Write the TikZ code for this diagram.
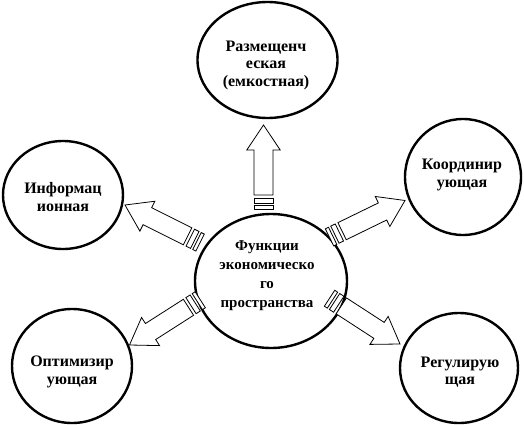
\documentclass[tikz,border=0pt]{standalone}
\usepackage{fontspec}
\setmainfont{Liberation Serif}
\begin{document}
\begin{tikzpicture}[x=1pt,y=-1pt,
  circ/.style={draw=black,line width=2.4pt},
  lbl/.style={align=center,font=\fontsize{16}{17.5}\selectfont\bfseries,inner sep=0pt},
  arr/.style={draw=black,line width=0.8pt,fill=white,line join=miter}]
\useasboundingbox (0,0) rectangle (524,425);
% circles
\draw[circ] (267.5,60) ellipse [x radius=70, y radius=58];
\draw[circ] (463,177) ellipse [x radius=58, y radius=58];
\draw[circ] (63,195) ellipse [x radius=60, y radius=54];
\draw[circ] (72,366) ellipse [x radius=60, y radius=57];
\draw[circ] (459,368) ellipse [x radius=59, y radius=55];
\draw[circ] (271,281) ellipse [x radius=76, y radius=67];
% labels
\node[lbl] (top) at (266,65) {Размещенч\\еская\\(емкостная)};
\node[lbl] (coord) at (462,175) {Координир\\ующая};
\node[lbl] (info) at (63,197) {Информац\\ионная};
\node[lbl] (opt) at (72,372) {Оптимизир\\ующая};
\node[lbl] (reg) at (460,372) {Регулирую\\щая};
\node[lbl,font=\fontsize{15}{19}\selectfont\bfseries] (center) at (267,276) {Функции\\экономическо\\го\\пространства};
% striped block arrows
\foreach \tx/\ty/\ang in {263.5/125/90, 405/200.5/26, 125/205/153.4, 129.5/345/212.6, 400/344/-33}{
  \begin{scope}[shift={(\tx,\ty)},rotate=\ang]
    \draw[arr] (0,0) -- (-25,16.7) -- (-25,9.5) -- (-70,9.5) -- (-70,-9.5) -- (-25,-9.5) -- (-25,-16.7) -- cycle;
    \draw[arr] (-73,-9.5) rectangle (-78,9.5);
    \draw[arr] (-80.5,-9.5) rectangle (-84,9.5);
  \end{scope}
}
\end{tikzpicture}
\end{document}
